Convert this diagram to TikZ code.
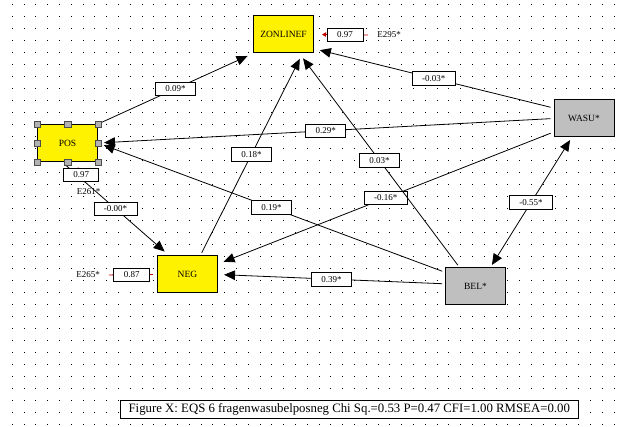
\documentclass[tikz,border=0pt]{standalone}
\usepackage{fontspec}
\setmainfont{Liberation Serif}
\usetikzlibrary{arrows.meta}

\newcommand*{\picw}{622}
\newcommand*{\pich}{427}
\newcommand*{\dotdx}{11.8}
\newcommand*{\dotdy}{12}

\begin{document}
\begin{tikzpicture}
[
	x=1pt,y=-1pt,
	varbox/.style={rectangle,draw,line width=1pt,minimum width=60pt,minimum height=37pt,inner sep=0pt,font=\fontsize{9.5}{11}\selectfont},
	obsvar/.style={varbox,fill=yellow},
	indvar/.style={varbox,fill=gray!50},
	coef/.style={rectangle,draw=black,fill=white,text=black,line width=0.8pt,minimum width=40pt,minimum height=13.5pt,inner sep=0pt,font=\fontsize{9}{10}\selectfont},
	errtxt/.style={inner sep=1pt,font=\fontsize{9}{10}\selectfont},
	effect/.style={-{Triangle[length=11pt,width=9.5pt]},line width=0.8pt,shorten <=3pt,shorten >=6pt},
	twoway/.style={{Triangle[length=11pt,width=9.5pt]}-{Triangle[length=11pt,width=9.5pt]},line width=0.8pt,shorten <=3pt,shorten >=3pt},
	errpath/.style={draw=red!75!black,line width=0.8pt},
	handle/.style={rectangle,draw=black!70,fill=gray!60,minimum size=6.5pt,inner sep=0pt},
]

	\useasboundingbox (0,0) rectangle (\picw,\pich);

	% dotted grid
	\foreach \i in {0,...,51}
		\foreach \j in {0,...,35}
			\fill (11.7+\dotdx*\i,4+\dotdy*\j) rectangle +(1,1);

	% variables
	\node[obsvar] (ZON) at (283.5,34.5) {ZONLINEF};
	\node[obsvar] (POS) at (67.5,143) {POS};
	\node[obsvar] (NEG) at (187.5,274.5) {NEG};
	\node[indvar] (WASU) at (584,118.5) {WASU*};
	\node[indvar] (BEL) at (475.5,286.5) {BEL*};

	% errors
	\node[errtxt] (E295) at (389,35) {E295*};
	\node[errtxt] (E261) at (88.5,192) {E261*};
	\node[errtxt] (E265) at (88,275) {E265*};

	% paths
	\draw[effect] (POS.north east) -- (ZON.south west) node[coef,pos=0.5] {0.09*};
	\draw[effect] (WASU.161) -- (ZON.335) node[coef,pos=0.5,minimum width=43pt] {-0.03*};
	\draw[effect] (WASU.west) -- (POS.east) node[coef,pos=0.5] {0.29*};
	\draw[effect] (WASU.204) -- (NEG.19) node[coef,pos=0.5,minimum width=43pt] {-0.16*};
	\draw[twoway] (WASU.237) -- (BEL.52) node[coef,pos=0.5,minimum width=43pt] {-0.55*};
	\draw[effect] (BEL.175) -- (NEG.east) node[coef,pos=0.5] {0.39*};
	\draw[effect] (BEL.155) -- (POS.east) node[coef,pos=0.5] {0.19*};
	\draw[effect] (BEL.130) -- (ZON.310) node[coef,pos=0.5] {0.03*};
	\draw[effect] (NEG.56) -- (ZON.315) node[coef,pos=0.5] {0.18*};
	\draw[effect] (POS.254) -- (NEG.134) node[coef,pos=0.5,minimum width=43pt] {-0.00*};

	% error paths
	\draw[errpath,-{Triangle[length=4pt,width=4.5pt]},shorten <=8pt,shorten >=8pt] (E295.west) -- (ZON.east) node[coef,midway,minimum width=36pt] {0.97};
	\draw[errpath,shorten <=6pt,shorten >=6pt] (E261) -- (POS) node[coef,midway,minimum width=35pt] {0.97};
	\draw[errpath,shorten <=8pt,shorten >=4pt] (E265.east) -- (NEG.west) node[coef,pos=0.55,minimum width=36pt] {0.87};

	% selection handles
	\foreach \p/\n in {north west/nw,north/n,north east/ne,west/w,east/e,south west/sw,south/s,south east/se}
		\node[handle] (hdl\n) at (POS.\p) {};

	% caption
	\node[draw,fill=white,line width=0.8pt,minimum width=458pt,minimum height=18pt,inner sep=0pt,font=\fontsize{12.8}{14}\selectfont] (caption) at (349.25,409) {Figure X: EQS 6 fragenwasubelposneg Chi Sq.=0.53 P=0.47 CFI=1.00 RMSEA=0.00};

\end{tikzpicture}
\end{document}
